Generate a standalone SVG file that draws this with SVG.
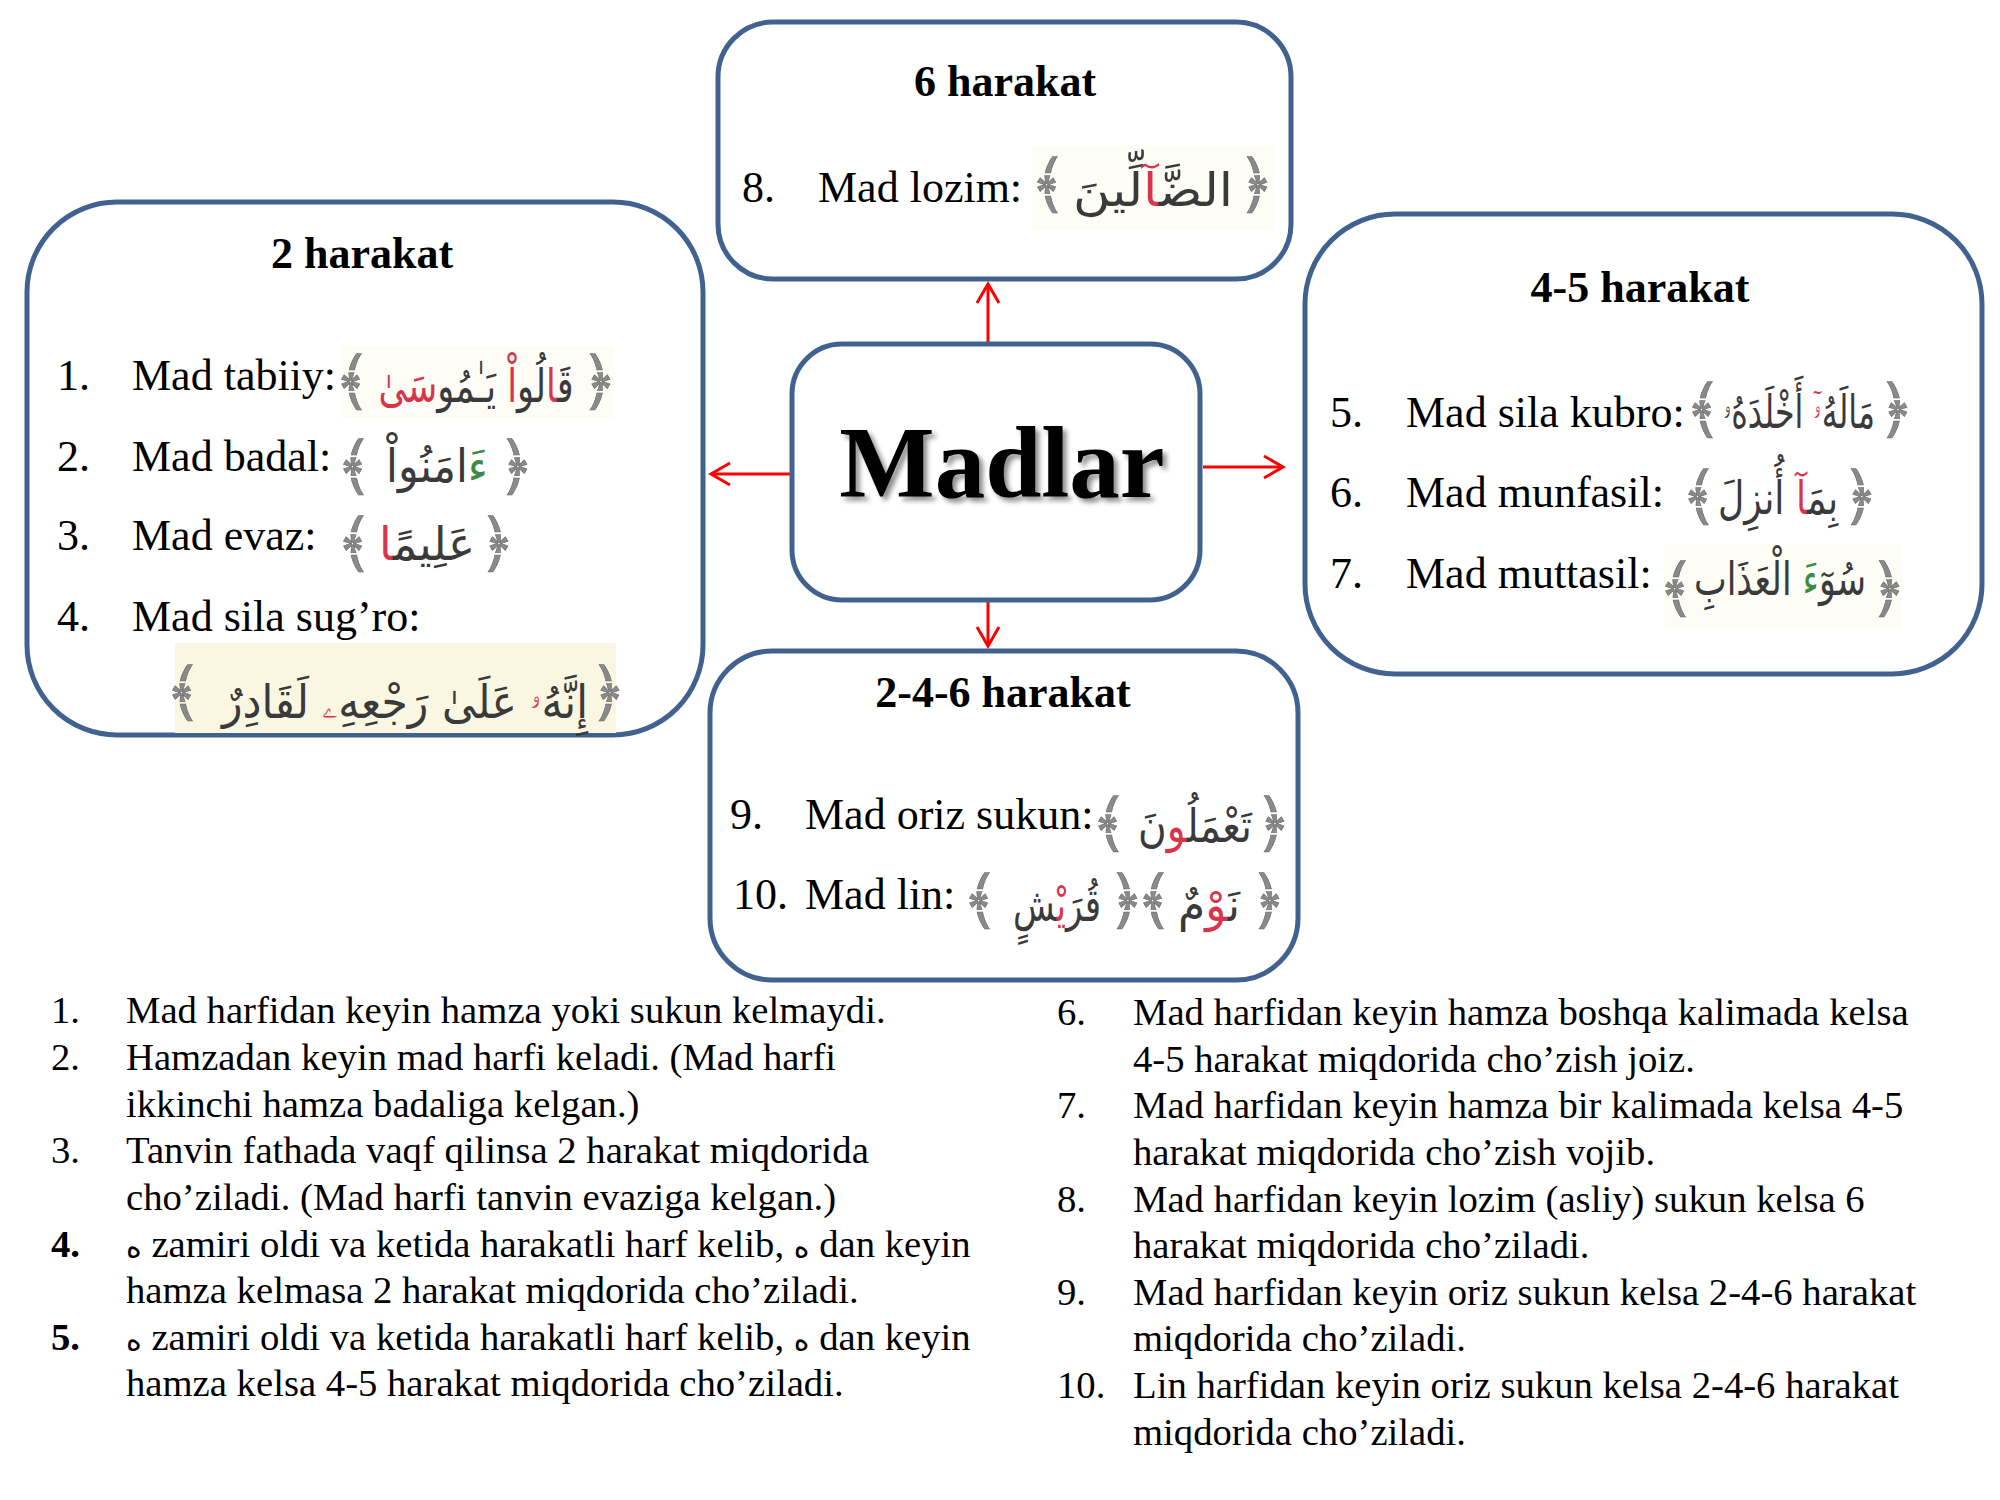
<svg xmlns="http://www.w3.org/2000/svg" width="2000" height="1500" viewBox="0 0 2000 1500">
<style>
.box{fill:#fff;stroke:#41628F;stroke-width:5}
.t{font-family:"Liberation Serif","Times New Roman",serif;fill:#000}
.h{font-family:"Liberation Serif","Times New Roman",serif;font-weight:bold;font-size:44px;text-anchor:middle;fill:#000}
.it{font-size:44px}
.ls{font-size:38.7px}
.hz{font-family:"DejaVu Sans",sans-serif;font-size:30px}
.arw{font-family:"DejaVu Sans",sans-serif;fill:#3a3a3a;font-size:46px;text-anchor:middle}
.br{font-family:"DejaVu Sans",sans-serif;fill:#8a8a8a;stroke:#6a6a6a;stroke-width:0.6;font-size:64px;text-anchor:middle}
.red{fill:#d8344c}
.grn{fill:#3d8a45}
.bg{fill:#fdfcf5}
.con{stroke:#f00;stroke-width:3;fill:none}
</style>
<defs>
<marker id="ah" markerUnits="userSpaceOnUse" markerWidth="26" markerHeight="28" refX="22" refY="13" orient="auto">
<path d="M3,2 L22,13 L3,24" fill="none" stroke="#f00" stroke-width="3"/>
</marker>
<filter id="sh" x="-10%" y="-20%" width="130%" height="150%">
<feDropShadow dx="4" dy="4" stdDeviation="2.5" flood-color="#000" flood-opacity="0.45"/>
</filter>
</defs>
<rect width="2000" height="1500" fill="#fff"/>

<g id="connectors">
<line class="con" x1="988" y1="342" x2="988" y2="284" marker-end="url(#ah)"/>
<line class="con" x1="988" y1="602" x2="988" y2="646" marker-end="url(#ah)"/>
<line class="con" x1="790" y1="474" x2="711" y2="474" marker-end="url(#ah)"/>
<line class="con" x1="1203" y1="467" x2="1283" y2="467" marker-end="url(#ah)"/>
</g>

<g id="node-6harakat">
<rect class="box" x="718" y="22" width="573" height="257" rx="55"/>
<text class="h" x="1005" y="96">6 harakat</text>
<text class="t it" x="742" y="202">8.</text>
<text class="t it" x="818" y="202">Mad lozim:</text>
<rect class="bg" x="1032" y="146" width="242" height="84"/>
<text class="br" x="1049" y="206">﴾</text>
<text class="br" x="1256" y="206">﴿</text>
<text class="arw" x="1153" y="206" textLength="160" lengthAdjust="spacingAndGlyphs">الضَّ<tspan class="red">آ</tspan>لِّينَ</text>
</g>

<g id="node-2harakat">
<rect class="box" x="27" y="202" width="676" height="533" rx="90"/>
<text class="h" x="362" y="268">2 harakat</text>
<text class="t it" x="57" y="390">1.</text>
<text class="t it" x="132" y="390">Mad tabiiy:</text>
<rect class="bg" x="342" y="346" width="272" height="72"/>
<text class="br" x="353" y="403">﴾</text>
<text class="br" x="599" y="403">﴿</text>
<text class="arw" x="476" y="402" textLength="195" lengthAdjust="spacingAndGlyphs">قَ<tspan class="red">ا</tspan>لُو<tspan class="red">اْ</tspan> يَـٰمُو<tspan class="red">سَىٰ</tspan></text>
<text class="t it" x="57" y="471">2.</text>
<text class="t it" x="132" y="471">Mad badal:</text>
<text class="br" x="355" y="488">﴾</text>
<text class="br" x="516" y="488">﴿</text>
<text class="arw" x="437" y="482" textLength="102" lengthAdjust="spacingAndGlyphs"><tspan class="grn">ءَ</tspan>امَنُواْ</text>
<text class="t it" x="57" y="550">3.</text>
<text class="t it" x="132" y="550">Mad evaz:</text>
<text class="br" x="355" y="565">﴾</text>
<text class="br" x="497" y="565">﴿</text>
<text class="arw" x="427" y="560" textLength="96" lengthAdjust="spacingAndGlyphs">عَلِيمً<tspan class="red">ا</tspan></text>
<text class="t it" x="57" y="631">4.</text>
<text class="t it" x="132" y="631">Mad sila sug’ro:</text>
<rect x="175" y="643" width="441" height="90" fill="#f9f6e1"/>
<text class="br" x="184" y="714">﴾</text>
<text class="br" x="608" y="714">﴿</text>
<text class="arw" x="405" y="718" textLength="366" lengthAdjust="spacingAndGlyphs">إِنَّهُ<tspan class="red">ۥ</tspan> عَلَىٰ رَجْعِهِ<tspan class="red">ۦ</tspan> لَقَادِرٌ</text>
</g>

<g id="node-madlar">
<rect class="box" x="792" y="344" width="408" height="256" rx="50"/>
<text class="t" x="1002" y="497" font-size="101" font-weight="bold" text-anchor="middle" filter="url(#sh)">Madlar</text>
</g>

<g id="node-45harakat">
<rect class="box" x="1305" y="214" width="677" height="460" rx="90"/>
<text class="h" x="1640" y="302">4-5 harakat</text>
<text class="t it" x="1330" y="427">5.</text>
<text class="t it" x="1406" y="427">Mad sila kubro:</text>
<text class="br" x="1704" y="431">﴾</text>
<text class="br" x="1896" y="431">﴿</text>
<text class="arw" x="1799" y="428" textLength="152" lengthAdjust="spacingAndGlyphs">مَالَهُ<tspan class="red">ۥٓ</tspan> أَخْلَدَهُۥ</text>
<text class="t it" x="1330" y="507">6.</text>
<text class="t it" x="1406" y="507">Mad munfasil:</text>
<text class="br" x="1700" y="518">﴾</text>
<text class="br" x="1860" y="518">﴿</text>
<text class="arw" x="1778" y="514" textLength="120" lengthAdjust="spacingAndGlyphs">بِمَ<tspan class="red">آ</tspan> أُنزِلَ</text>
<text class="t it" x="1330" y="588">7.</text>
<text class="t it" x="1406" y="588">Mad muttasil:</text>
<rect class="bg" x="1664" y="545" width="238" height="84"/>
<text class="br" x="1677" y="610">﴾</text>
<text class="br" x="1888" y="610">﴿</text>
<text class="arw" x="1780" y="595" textLength="172" lengthAdjust="spacingAndGlyphs">سُو<tspan class="grn">ٓءَ</tspan> الْعَذَابِ</text>
</g>

<g id="node-246harakat">
<rect class="box" x="710" y="651" width="588" height="329" rx="62"/>
<text class="h" x="1003" y="707">2-4-6 harakat</text>
<text class="t it" x="730" y="829">9.</text>
<text class="t it" x="805" y="829">Mad oriz sukun:</text>
<text class="br" x="1110" y="845">﴾</text>
<text class="br" x="1273" y="845">﴿</text>
<text class="arw" x="1195" y="842" textLength="114" lengthAdjust="spacingAndGlyphs">تَعْمَل<tspan class="red">ُو</tspan>نَ</text>
<text class="t it" x="733" y="909">10.</text>
<text class="t it" x="805" y="909">Mad lin:</text>
<text class="br" x="981" y="922">﴾</text>
<text class="br" x="1126" y="922">﴿</text>
<text class="arw" x="1057" y="921" textLength="88" lengthAdjust="spacingAndGlyphs">قُرَ<tspan class="red">يْ</tspan>شٍ</text>
<text class="br" x="1155" y="922">﴾</text>
<text class="br" x="1268" y="922">﴿</text>
<text class="arw" x="1209" y="921" textLength="62" lengthAdjust="spacingAndGlyphs">نَ<tspan class="red">وْ</tspan>مٌ</text>
</g>

<g id="notes-left" class="t ls">
<text x="51" y="1023">1.</text><text x="126" y="1023">Mad harfidan keyin hamza yoki sukun kelmaydi.</text>
<text x="51" y="1070">2.</text><text x="126" y="1070">Hamzadan keyin mad harfi keladi. (Mad harfi</text>
<text x="126" y="1117">ikkinchi hamza badaliga kelgan.)</text>
<text x="51" y="1163">3.</text><text x="126" y="1163">Tanvin fathada vaqf qilinsa 2 harakat miqdorida</text>
<text x="126" y="1210">cho’ziladi. (Mad harfi tanvin evaziga kelgan.)</text>
<text x="51" y="1257" font-weight="bold">4.</text><text x="126" y="1257"><tspan class="hz">ه</tspan> zamiri oldi va ketida harakatli harf kelib, <tspan class="hz">ه</tspan> dan keyin</text>
<text x="126" y="1303">hamza kelmasa 2 harakat miqdorida cho’ziladi.</text>
<text x="51" y="1350" font-weight="bold">5.</text><text x="126" y="1350"><tspan class="hz">ه</tspan> zamiri oldi va ketida harakatli harf kelib, <tspan class="hz">ه</tspan> dan keyin</text>
<text x="126" y="1396">hamza kelsa 4-5 harakat miqdorida cho’ziladi.</text>
</g>

<g id="notes-right" class="t ls">
<text x="1057" y="1025">6.</text><text x="1133" y="1025">Mad harfidan keyin hamza boshqa kalimada kelsa</text>
<text x="1133" y="1072">4-5 harakat miqdorida cho’zish joiz.</text>
<text x="1057" y="1118">7.</text><text x="1133" y="1118">Mad harfidan keyin hamza bir kalimada kelsa 4-5</text>
<text x="1133" y="1165">harakat miqdorida cho’zish vojib.</text>
<text x="1057" y="1212">8.</text><text x="1133" y="1212">Mad harfidan keyin lozim (asliy) sukun kelsa 6</text>
<text x="1133" y="1258">harakat miqdorida cho’ziladi.</text>
<text x="1057" y="1305">9.</text><text x="1133" y="1305">Mad harfidan keyin oriz sukun kelsa 2-4-6 harakat</text>
<text x="1133" y="1351">miqdorida cho’ziladi.</text>
<text x="1057" y="1398">10.</text><text x="1133" y="1398">Lin harfidan keyin oriz sukun kelsa 2-4-6 harakat</text>
<text x="1133" y="1445">miqdorida cho’ziladi.</text>
</g>
</svg>
